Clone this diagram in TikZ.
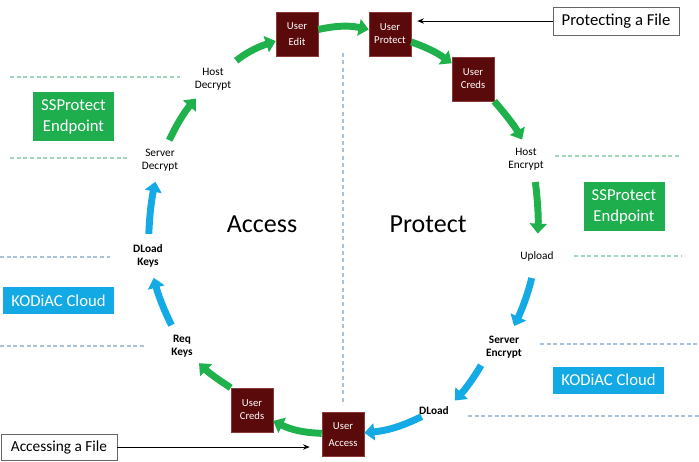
\documentclass[tikz,border=0pt]{standalone}
\usepackage{fontspec}
\setmainfont{Carlito}
\usetikzlibrary{arrows.meta}
\definecolor{boxred}{HTML}{5A0A0A}
\definecolor{boxredline}{HTML}{8A3A3A}
\definecolor{garrow}{HTML}{1FB14B}
\definecolor{barrow}{HTML}{14AAE6}
\definecolor{gfill}{HTML}{1EAE4E}
\definecolor{bfill}{HTML}{12A9E5}
\definecolor{gdash}{HTML}{9FD6BC}
\definecolor{bdash}{HTML}{A9C2DA}
\begin{document}
\begin{tikzpicture}[x=0.75pt,y=-0.75pt,
  ubox/.style={fill=boxred, draw=boxredline, line width=0.4pt, text=white,
    minimum width=31.5pt, minimum height=33pt, inner sep=0pt, align=center},
  lbl/.style={font=\fontsize{8.5}{9.5}\selectfont, align=center, inner sep=1pt},
  blbl/.style={font=\bfseries\fontsize{8.5}{9.5}\selectfont, align=center, inner sep=1pt},
  garr/.style={draw=garrow, line width=5.2pt, -{Triangle[length=7.5pt,width=12.5pt]}},
  barr/.style={draw=barrow, line width=5.2pt, -{Triangle[length=7.5pt,width=12.5pt]}},
  gbox/.style={fill=gfill, text=white, font=\fontsize{12.5}{15.75}\selectfont, align=center,
    minimum width=60.75pt, minimum height=36.75pt, inner sep=0pt},
  kbox/.style={fill=bfill, text=white, font=\fontsize{12.5}{15}\selectfont, align=center,
    minimum width=83.25pt, minimum height=20.25pt, inner sep=0pt},
  callout/.style={draw=black!60, fill=white, line width=0.6pt, inner sep=0pt},
  ptr/.style={draw=black, line width=0.6pt, -{Stealth[length=5pt,width=4pt]}},
  gd/.style={draw=gdash, line width=0.8pt, dash pattern=on 3pt off 2pt},
  bd/.style={draw=bdash, line width=0.8pt, dash pattern=on 3pt off 2pt},
  big/.style={font=\fontsize{19.5}{22}\selectfont, inner sep=0pt}
]
\useasboundingbox (0,0) rectangle (699,461);

% dashed guides
\draw[bdash, line width=0.8pt, dash pattern=on 3pt off 2.5pt] (343,53) -- (343,405);
\draw[gd] (10,77) -- (180,77);
\draw[gd] (10,158) -- (127,158);
\draw[bd] (0,257) -- (110,257);
\draw[bd] (0,346) -- (145,346);
\draw[gd] (555,156) -- (680,156);
\draw[gd] (574,256) -- (681,256);
\draw[bd] (540,344) -- (699,344);
\draw[bd] (468,416) -- (699,416);

% side labels
\node[gbox] (ssl) at (73.5,116.5) {SSProtect\\Endpoint};
\node[gbox] (ssr) at (624,206.5) {SSProtect\\Endpoint};
\node[kbox] (kcl) at (58.5,300.5) {KODiAC Cloud};
\node[kbox] (kcr) at (608.5,380) {KODiAC Cloud};

% center words
\node[big] (acc) at (262,224) {Access};
\node[big] (pro) at (428,224) {Protect};

% step boxes
\node[ubox, font=\fontsize{8}{12.5}\selectfont] (uedit) at (297,34) {User\\Edit};
\node[ubox, font=\fontsize{8}{9.75}\selectfont] (uprot) at (390,34) {User\\Protect};
\node[ubox, font=\fontsize{8}{9.75}\selectfont] (ucred1) at (473,79) {User\\Creds};
\node[ubox, font=\fontsize{8}{13}\selectfont] (uaccess) at (343,434.5) {User\\Access};
\node[ubox, font=\fontsize{8}{9.75}\selectfont] (ucred2) at (252,410) {User\\Creds};

% step labels
\node[lbl] (hostdec) at (213,79) {Host\\Decrypt};
\node[lbl] (servdec) at (160,160) {Server\\Decrypt};
\node[blbl] (dlkeys) at (148,256) {DLoad\\Keys};
\node[blbl] (reqkeys) at (182,346) {Req\\Keys};
\node[lbl] (hostenc) at (526,159) {Host\\Encrypt};
\node[lbl] (upload) at (537,256) {Upload};
\node[blbl] (servenc) at (504,347) {Server\\Encrypt};
\node[blbl] (dload) at (434,411) {DLoad};

% callouts
\node[callout, minimum width=94.5pt, minimum height=21pt, font=\fontsize{12.5}{14}\selectfont] (pfile) at (616,21) {Protecting a File};
\node[callout, minimum width=87pt, minimum height=19.5pt, font=\fontsize{11.5}{13}\selectfont] (afile) at (59,447) {Accessing a File};
\draw[ptr, shorten >=4.5pt] (pfile.west) -- (pfile.west -| uprot.east);
\draw[ptr, shorten >=9pt] (afile.east) -- (afile.east -| uaccess.west);

% green arrows
\draw[garr, shorten <=7pt] (hostdec) to[bend left=10] (uedit);
\draw[garr] (uedit) to[bend left=12] (uprot);
\draw[garr] (uprot) to[bend left=8] (ucred1);
\draw[garr, shorten >=6pt] (ucred1.south east) to[bend left=6] (hostenc.north);
\draw[garr, shorten <=8pt, shorten >=12pt] ([xshift=6pt]hostenc.south) to[bend left=5] (upload.north);
\draw[garr, shorten <=6pt, shorten >=7pt] (servdec) to[bend left=8] (hostdec);
\draw[garr] (uaccess) to[bend left=12] (ucred2);
\draw[garr, shorten >=5pt] (ucred2.north west) to[bend left=6] (reqkeys.south east);

% blue arrows
\draw[barr, shorten <=12pt, shorten >=7pt] (upload) to[bend left=6] (servenc);
\draw[barr, shorten <=5pt, shorten >=5pt] (servenc.south west) to[bend left=6] (dload.north east);
\draw[barr] (dload) to[bend left=10] (uaccess);
\draw[barr, shorten <=7pt, shorten >=7pt] (reqkeys) to[bend left=6] (dlkeys);
\draw[barr, shorten <=7pt, shorten >=7pt] (dlkeys) to[bend left=5] (servdec);
\end{tikzpicture}
\end{document}
